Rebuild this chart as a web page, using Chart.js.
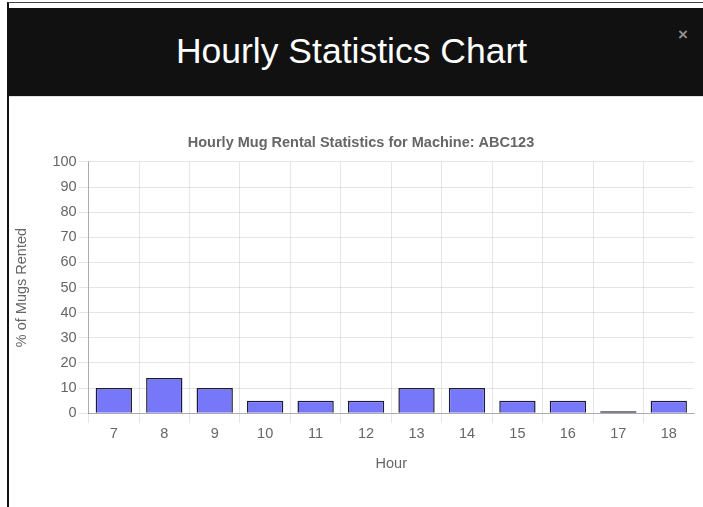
<!DOCTYPE html>
<html>
<head>
<meta charset="utf-8">
<script src="https://cdn.jsdelivr.net/npm/chart.js@4/dist/chart.umd.min.js"></script>
<style>
  html, body { margin: 0; padding: 0; background: #fff; overflow: hidden; width: 703px; height: 507px; }
  .frame { position: absolute; left: 7px; top: 2px; width: 720px; height: 520px; border-left: 2px solid #111; border-top: 1px solid #444; }
  .header { position: absolute; left: 9px; top: 8px; width: 720px; height: 88px; background: #111; border-bottom: 1px solid #e2e2e2; }
  .header h2 { margin: 0; position: absolute; left: -9px; width: 703px; top: 23px; text-align: center; color: #fff; font: 400 35.5px "Liberation Sans", Arial, sans-serif; }
  .close { position: absolute; left: 669px; top: 17px; color: #8f8f8f; font: 700 17px "Liberation Sans", Arial, sans-serif; }
  .chart-box { position: absolute; left: 10px; top: 124px; width: 702px; height: 353px; }
</style>
</head>
<body>
<div class="frame"></div>
<div class="header"><h2>Hourly Statistics Chart</h2><span class="close">×</span></div>
<div class="chart-box"><canvas id="hourly"></canvas></div>
<script>
const hours = ['7', '8', '9', '10', '11', '12', '13', '14', '15', '16', '17', '18'];
const rentedPercent = [10, 14, 10, 5, 5, 5, 10, 10, 5, 5, 0, 5];
const machineId = 'ABC123';

const barFill = '#7777fa';
const barEdge = '#1c1c3a';

Chart.defaults.font.family = '"Liberation Sans", Arial, Helvetica, sans-serif';
Chart.defaults.font.size = 14.5;
Chart.defaults.color = '#666';

new Chart(document.getElementById('hourly'), {
  type: 'bar',
  data: {
    labels: hours,
    datasets: [{
      label: '% of Mugs Rented',
      data: rentedPercent,
      // empty hours still show as a flat dark line on the axis
      backgroundColor: ctx => ctx.raw === 0 ? barEdge : barFill,
      borderColor: barEdge,
      borderWidth: 1.5,
      minBarLength: 2,
      categoryPercentage: 0.8,
      barPercentage: 0.9
    }]
  },
  options: {
    responsive: true,
    maintainAspectRatio: false,
    animation: false,
    layout: { padding: { left: 0, right: 0, top: 0, bottom: 0 } },
    plugins: {
      legend: { display: false },
      tooltip: { enabled: false },
      title: {
        display: true,
        text: 'Hourly Mug Rental Statistics for Machine: ' + machineId,
        font: { size: 14.5, weight: 'bold' },
        color: '#666',
        padding: { top: 10, bottom: 10.5 }
      }
    },
    scales: {
      x: {
        grid: {
          offset: true,
          tickLength: 10,
          color: ctx => ctx.type === 'tick' ? 'rgba(0,0,0,0.1)' : 'rgba(0,0,0,0)'
        },
        border: { color: 'rgba(0,0,0,0.25)' },
        ticks: { padding: 2 },
        title: { display: true, text: 'Hour', padding: { top: 11, bottom: 4 } }
      },
      y: {
        min: 0,
        max: 100,
        ticks: { stepSize: 10, padding: 2 },
        grid: { tickLength: 10, color: 'rgba(0,0,0,0.1)' },
        border: { color: 'rgba(0,0,0,0.25)' },
        title: { display: true, text: '% of Mugs Rented', padding: { top: 3, bottom: 20 } }
      },
      // blank right-hand gutter between the plot and the canvas edge
      gutter: {
        position: 'right',
        min: 0,
        max: 100,
        grid: { display: false },
        ticks: { display: false },
        border: { display: false },
        afterFit: scale => { scale.width = 18; }
      }
    }
  }
});
</script>
</body>
</html>
